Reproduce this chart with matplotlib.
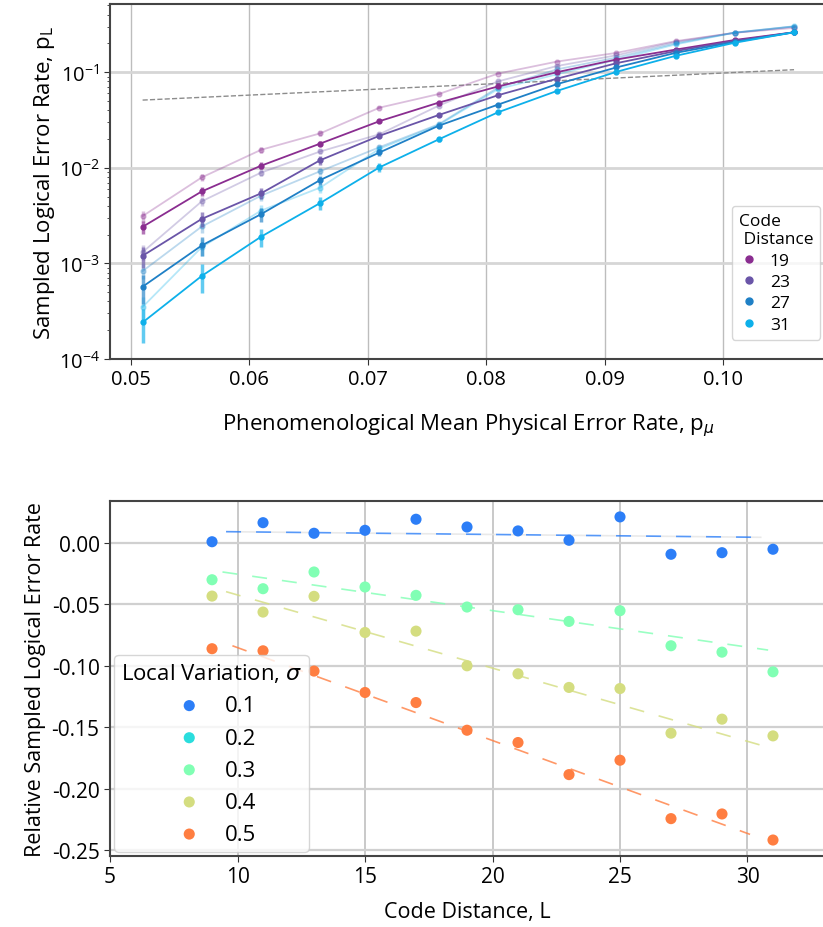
import numpy as np
import matplotlib.pyplot as plt
from matplotlib.lines import Line2D

plt.rcParams['font.family'] = ['Open Sans', 'DejaVu Sans']
plt.rcParams['mathtext.fontset'] = 'dejavusans'

# ---- top panel data: sampled logical error rate vs mean physical error rate
p_mu = [0.051, 0.056, 0.061, 0.066, 0.071, 0.076, 0.081, 0.086, 0.091, 0.096, 0.101, 0.106]
distances = [19, 23, 27, 31]
dist_colors = ['#8a2d90', '#6a55a8', '#1f80c6', '#0db0ea']

# varied-noise runs (solid lines)
pl_19 = [2.41e-3, 5.66e-3, 1.05e-2, 1.79e-2, 3.07e-2, 4.80e-2, 7.08e-2, 0.100, 0.1355, 0.172, 0.217, 0.261]
pl_23 = [1.20e-3, 2.92e-3, 5.40e-3, 1.20e-2, 2.16e-2, 3.56e-2, 5.73e-2, 0.0855, 0.124, 0.166, 0.212, 0.261]
pl_27 = [5.7e-4, 1.54e-3, 3.27e-3, 7.45e-3, 1.445e-2, 2.75e-2, 4.57e-2, 0.0750, 0.112, 0.159, 0.207, 0.261]
pl_31 = [2.41e-4, 7.4e-4, 1.90e-3, 4.28e-3, 1.01e-2, 1.98e-2, 3.80e-2, 0.0637, 0.1007, 0.148, 0.203, 0.261]
err_19 = [3.8e-4, 6.5e-4, 9e-4, 1.1e-3, 1.3e-3, 1.6e-3, 2e-3, 2e-3, 2e-3, 2e-3, 2e-3, 2e-3]
err_23 = [3e-4, 5e-4, 7e-4, 1.2e-3, 1.3e-3, 1.5e-3, 1.8e-3, 2e-3, 2e-3, 2e-3, 2e-3, 2e-3]
err_27 = [1.9e-4, 3.6e-4, 5.5e-4, 8e-4, 1.1e-3, 1.4e-3, 1.6e-3, 2e-3, 2e-3, 2e-3, 2e-3, 2e-3]
err_31 = [9.5e-5, 2.5e-4, 4e-4, 6.5e-4, 1e-3, 1.2e-3, 1.5e-3, 1.8e-3, 2e-3, 2e-3, 2e-3, 2e-3]

# uniform-noise reference runs (faint lines)
ref_19 = [3.12e-3, 7.93e-3, 1.54e-2, 2.29e-2, 4.25e-2, 5.90e-2, 0.0965, 0.129, 0.159, 0.211, 0.258, 0.290]
ref_23 = [1.31e-3, 4.46e-3, 8.9e-3, 1.48e-2, 2.24e-2, 4.46e-2, 0.0800, 0.116, 0.150, 0.207, 0.258, 0.300]
ref_27 = [8.3e-4, 2.43e-3, 5.1e-3, 9.2e-3, 1.64e-2, 2.85e-2, 0.0690, 0.107, 0.142, 0.200, 0.259, 0.300]
ref_31 = [3.5e-4, 1.48e-3, 3.56e-3, 6.2e-3, 1.58e-2, 2.80e-2, 0.0665, 0.095, 0.135, 0.195, 0.259, 0.302]
rerr_19 = [4e-4, 7e-4, 1e-3, 1.2e-3, 1.5e-3, 1.8e-3, 2e-3, 2e-3, 2e-3, 2e-3, 2e-3, 2e-3]
rerr_23 = [2.5e-4, 5e-4, 8e-4, 1e-3, 1.3e-3, 1.6e-3, 2e-3, 2e-3, 2e-3, 2e-3, 2e-3, 2e-3]
rerr_27 = [1.5e-4, 3.5e-4, 6e-4, 8e-4, 1.1e-3, 1.5e-3, 2e-3, 2e-3, 2e-3, 2e-3, 2e-3, 2e-3]
rerr_31 = [1e-4, 3e-4, 5e-4, 7e-4, 1.1e-3, 1.5e-3, 2e-3, 2e-3, 2e-3, 2e-3, 2e-3, 2e-3]

# ---- bottom panel data: relative logical error rate vs code distance
code_L = [9, 11, 13, 15, 17, 19, 21, 23, 25, 27, 29, 31]
sigma_labels = ['0.1', '0.2', '0.3', '0.4', '0.5']
rel_s01 = [0.001, 0.0165, 0.0079, 0.0103, 0.0193, 0.013, 0.0098, 0.0022, 0.0212, -0.0092, -0.0079, -0.0051]
rel_s02 = []
rel_s03 = [-0.0299, -0.0372, -0.0236, -0.0358, -0.0426, -0.0521, -0.0543, -0.0638, -0.0551, -0.0836, -0.0888, -0.1048]
rel_s04 = [-0.0432, -0.0562, -0.0434, -0.0728, -0.0717, -0.0999, -0.1064, -0.1175, -0.1184, -0.1547, -0.1433, -0.1569]
rel_s05 = [-0.0860, -0.0877, -0.1042, -0.1216, -0.1298, -0.1523, -0.1623, -0.1884, -0.1767, -0.2242, -0.2204, -0.2416]
# trend lines (start/end)
trend_L = [[9.55, 30.55], [], [9.41, 30.81], [9.55, 30.85], [9.8, 30.1]]
trend_y = [[0.0092, 0.0046], [], [-0.0236, -0.0871], [-0.0396, -0.1664], [-0.0836, -0.237]]

fig = plt.figure(figsize=(8.23, 9.28), dpi=100)

# ================= top panel =================
ax1 = fig.add_axes([0.1337, 0.6121, 0.8707, 0.3820])
ax1.set_axisbelow(True)
ax1.grid(axis='y', which='major', color='#d6d6d6', lw=2)
ax1.grid(axis='x', which='major', color='#bdbdbd', lw=1)

ax1.plot([p_mu[0], p_mu[-1]], [p_mu[0], p_mu[-1]], ls='--', color='#8c8c8c', lw=1, zorder=1)

refs = [ref_19, ref_23, ref_27, ref_31]
rerrs = [rerr_19, rerr_23, rerr_27, rerr_31]
for vals, e, c in zip(refs, rerrs, dist_colors):
    ax1.errorbar(p_mu, vals, yerr=e, color=c, marker='o', ms=3.5,
                 lw=1.3, elinewidth=2.5, capsize=0, alpha=0.3, zorder=2)

sols = [pl_19, pl_23, pl_27, pl_31]
errs = [err_19, err_23, err_27, err_31]
for vals, e, c in zip(sols, errs, dist_colors):
    ln, caps, bars = ax1.errorbar(p_mu, vals, yerr=e, color=c, marker='o', ms=3.5,
                                  lw=1.3, elinewidth=2.5, capsize=0, zorder=3)
    for b in bars:
        b.set_alpha(0.65)

ax1.set_yscale('log')
ax1.set_ylim(1e-4, 0.51)
ax1.set_xlim(0.04825, 0.10875)
ax1.set_xticks([0.05, 0.06, 0.07, 0.08, 0.09, 0.10])
ax1.set_xticklabels(['0.05', '0.06', '0.07', '0.08', '0.09', '0.10'])
ax1.tick_params(axis='both', which='major', labelsize=14.5, direction='out', length=4, color='#333333')
ax1.tick_params(axis='y', which='minor', length=2.5, color='#333333')
for s in ['left', 'bottom', 'top']:
    ax1.spines[s].set_color('#444444')
    ax1.spines[s].set_linewidth(1.5)
ax1.spines['right'].set_visible(False)

ax1.set_xlabel(r'Phenomenological Mean Physical Error Rate, p$_{\mu}$', fontsize=16, labelpad=16)
ax1.set_ylabel(r'Sampled Logical Error Rate, p$_{\mathregular{L}}$', fontsize=16, labelpad=1)

handles = [Line2D([], [], ls='none', marker='o', ms=5, color=c) for c in dist_colors]
leg1 = ax1.legend(handles, [str(d) for d in distances], title='Code\n Distance', loc='lower right',
                  bbox_to_anchor=(1.003, 0.03), fontsize=12.5, title_fontsize=12.5,
                  handlelength=1.2, handletextpad=0.6, labelspacing=0.3, borderpad=0.4,
                  frameon=True, fancybox=True)
leg1._legend_box.align = 'left'
leg1.get_title().set_multialignment('left')

# ================= bottom panel =================
ax2 = fig.add_axes([0.1337, 0.0765, 0.8675, 0.3829])
ax2.set_axisbelow(True)
ax2.grid(axis='y', color='#d0d0d0', lw=1.6)
ax2.grid(axis='x', color='#c0c0c0', lw=1.2)

sig_colors = plt.cm.rainbow(np.linspace(0, 1, 7)[1:-1])
rels = [rel_s01, rel_s02, rel_s03, rel_s04, rel_s05]
for lab, vals, c in zip(sigma_labels, rels, sig_colors):
    ax2.scatter(code_L[:len(vals)], vals, s=64, color=c, edgecolors='none', label=lab, zorder=3)
for i, (tl, ty, c) in enumerate(zip(trend_L, trend_y, sig_colors)):
    if tl:
        ax2.plot(tl, ty, color=c, lw=1.2, alpha=0.8, dashes=(9, 9), zorder=2,
                 gapcolor='#e4e4e4' if i == 0 else None)

ax2.set_xlim(5, 33)
ax2.set_ylim(-0.2546, 0.0344)
ax2.set_xticks([5, 10, 15, 20, 25, 30])
ax2.set_yticks([0.0, -0.05, -0.10, -0.15, -0.20, -0.25])
ax2.set_yticklabels(['0.00', '-0.05', '-0.10', '-0.15', '-0.20', '-0.25'])
ax2.tick_params(axis='both', labelsize=15, direction='out', length=4, color='#333333')
for s in ['left', 'bottom', 'top']:
    ax2.spines[s].set_color('#444444')
    ax2.spines[s].set_linewidth(1.5)
ax2.spines['right'].set_visible(False)
ax2.set_xlabel('Code Distance, L', fontsize=15.5, labelpad=10)
ax2.set_ylabel('Relative Sampled Logical Error Rate', fontsize=15.5, labelpad=4)

leg2 = ax2.legend(title=r'Local Variation, $\sigma$', loc='lower left', fontsize=16,
                  title_fontsize=16, borderaxespad=0.2, labelspacing=0.5,
                  handletextpad=0.6, borderpad=0.3)

fig.savefig('out.png', dpi=100)
